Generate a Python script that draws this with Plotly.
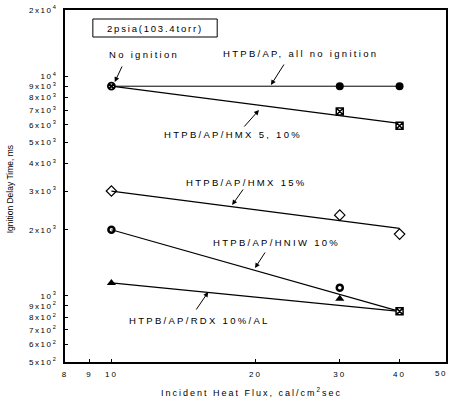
import plotly.graph_objects as go
import math

# ---------------- data ----------------
flux = [10, 30, 40]
htpb_ap = [9000, 9000]            # at 30, 40 (all no ignition)
htpb_ap_x = [30, 40]
no_ign_x = [10]
no_ign_y = [9000]
hmx5_x = [30, 40]
hmx5 = [6900, 5950]
hmx15 = [3000, 2330, 1910]
hniw_x = [10, 30]
hniw = [2000, 1090]
rdx_x = [10, 30]
rdx = [1145, 970]
end_x = [40]
end_y = [850]                     # shared HNIW / RDX point at 40

fit_x = [10, 40]
fit_htpb = [9000, 9000]
fit_hmx5 = [9000, 6100]
fit_hmx15 = [3000, 2030]
fit_hniw = [2000, 850]
fit_rdx = [1145, 850]

x_ticks = [8, 9, 10, 20, 30, 40, 50]
y_ticks = [500, 600, 700, 800, 900, 1000, 2000, 3000, 4000, 5000,
           6000, 7000, 8000, 9000, 10000, 20000]

FONT = "Liberation Sans"
LS = "letter-spacing:2.3px"


def sp(t, ls=LS):
    return f'<span style="{ls}">{t}</span>'


def ylab(v):
    e = int(math.floor(math.log10(v) + 1e-9))
    m = round(v / 10 ** e)
    if m == 1:
        return sp(f"10<sup>{e}</sup>", "letter-spacing:1.6px")
    return sp(f"{m}x10<sup>{e}</sup>", "letter-spacing:1.6px")


fig = go.Figure()
K = "black"
# fit lines
for fy, w in [(fit_htpb, 1.0), (fit_hmx5, 1.2), (fit_hmx15, 1.2),
              (fit_hniw, 1.2), (fit_rdx, 1.2)]:
    fig.add_trace(go.Scatter(x=fit_x, y=fy, mode="lines",
                             line=dict(color=K, width=w), hoverinfo="skip"))

# markers
fig.add_trace(go.Scatter(x=htpb_ap_x, y=htpb_ap, mode="markers",
                         marker=dict(symbol="circle", size=8, color=K)))
fig.add_trace(go.Scatter(x=no_ign_x, y=no_ign_y, mode="markers",
                         marker=dict(symbol="circle-x", size=7, color="white",
                                     line=dict(color=K, width=1.8))))
fig.add_trace(go.Scatter(x=hmx5_x, y=hmx5, mode="markers",
                         marker=dict(symbol="square-x", size=7, color="white",
                                     line=dict(color=K, width=1.5))))
fig.add_trace(go.Scatter(x=flux, y=hmx15, mode="markers",
                         marker=dict(symbol="diamond-open", size=8, color=K,
                                     line=dict(color=K, width=1.2))))
fig.add_trace(go.Scatter(x=hniw_x, y=hniw, mode="markers",
                         marker=dict(symbol="circle-open", size=6, color=K,
                                     line=dict(color=K, width=2.5))))
fig.add_trace(go.Scatter(x=rdx_x, y=rdx, mode="markers",
                         marker=dict(symbol="triangle-up", size=8, color=K)))
fig.add_trace(go.Scatter(x=end_x, y=end_y, mode="markers",
                         marker=dict(symbol="square-x", size=7, color="white",
                                     line=dict(color=K, width=1.5))))

# ---------------- layout ----------------
L, R, T, B = 65, 448, 10, 362


def px(x):
    return (x - L) / (R - L)


def py(y):
    return (B - y) / (B - T)


ann = []
texts = [
    ("No ignition", 107, 54),
    ("HTPB/AP, all no ignition", 222, 53),
    ("HTPB/AP/HMX 5, 10%", 163, 134),
    ("HTPB/AP/HMX 15%", 185, 182),
    ("HTPB/AP/HNIW 10%", 212, 243),
    ("HTPB/AP/RDX 10%/AL", 127, 320),
]
for t, x, y in texts:
    ann.append(dict(text=sp(t), x=px(x), y=py(y), xref="paper", yref="paper",
                    xanchor="left", yanchor="middle", showarrow=False,
                    font=dict(family=FONT, size=9.5, color=K)))

arrows = [
    ((123, 65), (115, 82)),
    ((286, 63), (272, 85)),
    ((244, 128), (260, 110)),
    ((245, 188), (233, 205)),
    ((267, 251), (256, 268)),
    ((196, 311), (209, 292)),
]
for (tx, ty), (hx, hy) in arrows:
    ann.append(dict(text="", x=px(hx), y=py(hy), xref="paper", yref="paper",
                    ax=tx - hx, ay=ty - hy, showarrow=True, arrowhead=2,
                    arrowsize=1, arrowwidth=1, arrowcolor=K))

# pressure box
ann.append(dict(text=sp("2psia(103.4torr)", "letter-spacing:1.8px"),
                x=px(155.5), y=py(28), xref="paper", yref="paper",
                xanchor="center", yanchor="middle", showarrow=False,
                font=dict(family=FONT, size=9.5, color=K)))
shapes = [dict(type="rect", xref="paper", yref="paper",
               x0=px(93), x1=px(218), y0=py(37), y1=py(19),
               line=dict(color=K, width=1))]

# last x tick label (clipped at the page edge in the original)
ann.append(dict(text=sp(str(x_ticks[-1]), "letter-spacing:1.5px"),
                x=px(451), y=py(373), xref="paper", yref="paper",
                xanchor="right", yanchor="middle", showarrow=False,
                font=dict(family=FONT, size=8, color=K)))

# axis titles
ann.append(dict(text=sp("Incident Heat Flux, cal/cm<sup>2</sup>sec", "letter-spacing:2px"),
                x=px(252), y=py(392), xref="paper", yref="paper",
                xanchor="center", yanchor="middle", showarrow=False,
                font=dict(family=FONT, size=9, color=K)))
ann.append(dict(text="Ignition Delay Time, ms",
                x=px(10), y=py(189), xref="paper", yref="paper",
                xanchor="center", yanchor="middle", showarrow=False,
                textangle=-90, font=dict(family=FONT, size=8.5, color=K)))

fig.update_layout(
    width=451, height=401,
    margin=dict(l=L, r=451 - R, t=T, b=401 - B),
    paper_bgcolor="white", plot_bgcolor="white",
    showlegend=False,
    annotations=ann, shapes=shapes,
    font=dict(family=FONT, color=K),
)
fig.update_xaxes(
    type="log", range=[math.log10(7.999), math.log10(50.01)],
    tickvals=x_ticks,
    ticktext=[sp(str(v), "letter-spacing:2px") if v != x_ticks[-1] else "" for v in x_ticks],
    ticks="inside", ticklen=3, tickcolor=K, tickwidth=1,
    showgrid=False, zeroline=False,
    showline=True, linecolor=K, linewidth=2, mirror=True,
    tickfont=dict(family=FONT, size=8, color=K), ticklabelstandoff=3,
)
fig.update_yaxes(
    type="log", range=[math.log10(499.9), math.log10(20005)],
    tickvals=y_ticks, ticktext=[ylab(v) for v in y_ticks],
    ticks="inside", ticklen=3, tickcolor=K, tickwidth=1,
    showgrid=False, zeroline=False,
    showline=True, linecolor=K, linewidth=2, mirror=True,
    tickfont=dict(family=FONT, size=8, color=K), ticklabelstandoff=4,
)

fig.write_html("out.html")
